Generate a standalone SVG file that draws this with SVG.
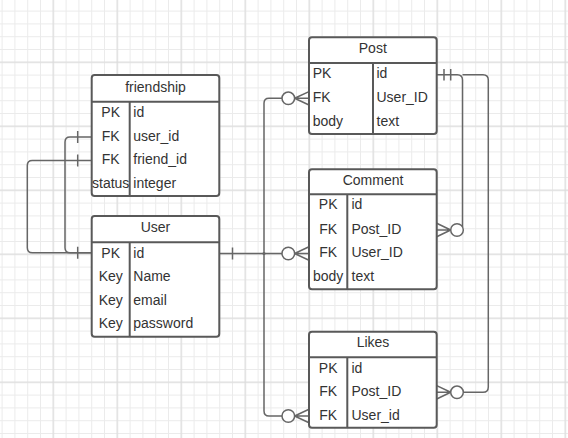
<svg xmlns="http://www.w3.org/2000/svg" width="568" height="438" viewBox="0 0 568 438">
<style>
.tb{fill:#fff;stroke:#595959;stroke-width:2}
.ln{stroke:#595959;stroke-width:2;fill:none}
.t{font-family:"Liberation Sans",Arial,sans-serif;font-size:14px;fill:#333}
.c{text-anchor:middle}
.cn{stroke:#666;stroke-width:1.5;fill:none}
.ci{stroke:#666;stroke-width:1.5;fill:#fff}
</style>
<defs>
<pattern id="minor" width="12.8" height="12.8" patternUnits="userSpaceOnUse" x="46.9" y="55.9">
<path d="M6.4 0V12.8M0 6.4H12.8" stroke="#ebebeb" stroke-width="1" fill="none"/>
</pattern>
<pattern id="major" width="64" height="64" patternUnits="userSpaceOnUse" x="21.3" y="30.3">
<path d="M32 0V64M0 32H64" stroke="#d9d9d9" stroke-width="1" fill="none"/>
</pattern>
</defs>
<rect width="568" height="438" fill="#fff"/>
<rect width="568" height="438" fill="url(#minor)"/>
<rect width="568" height="438" fill="url(#major)"/>

<g id="connectors">
<path class="cn" d="M91.7,137H70Q65,137 65,142V247.7Q65,252.7 70,252.7H91.7"/>
<path class="cn" d="M77.7,131V143M77.7,246.7V258.7"/>
<path class="cn" d="M91.7,160.5H32.3Q27.3,160.5 27.3,165.5V247.7Q27.3,252.7 32.3,252.7H91.7"/>
<path class="cn" d="M77.7,154.5V166.5"/>
<path class="cn" d="M219.3,253.5H282M232.5,247.5V259.5"/>
<path class="cn" d="M264,253.5V103.3Q264,98.3 269,98.3H282"/>
<path class="cn" d="M264,253.5V411Q264,416 269,416H282"/>
<circle cx="264" cy="253.5" r="1.6" fill="#666"/>
<path class="cn" d="M294.6,98.3L309,91.6M294.6,98.3H309M294.6,98.3L309,105"/>
<circle class="ci" cx="288.3" cy="98.3" r="6.3"/>
<path class="cn" d="M294.6,253.5L309,246.8M294.6,253.5H309M294.6,253.5L309,260.2"/>
<circle class="ci" cx="288.3" cy="253.5" r="6.3"/>
<path class="cn" d="M294.6,416L309,409.3M294.6,416H309M294.6,416L309,422.7"/>
<circle class="ci" cx="288.3" cy="416" r="6.3"/>
<path class="cn" d="M436.7,74.7H457.3Q462.5,74.7 462.5,80V227"/>
<path class="cn" d="M444,69V80.5M450.7,69V80.5"/>
<path class="cn" d="M462.5,74.7H483Q488.3,74.7 488.3,80V387Q488.3,392.3 483,392.3H463.3"/>
<path class="cn" d="M450.7,230L436.7,223.3M450.7,230H436.7M450.7,230L436.7,236.7"/>
<circle class="ci" cx="457" cy="230" r="6.3"/>
<path class="cn" d="M450.7,392.3L436.7,385.6M450.7,392.3H436.7M450.7,392.3L436.7,399"/>
<circle class="ci" cx="457" cy="392.3" r="6.3"/>
</g>

<g id="friendship">
<rect class="tb" x="91.7" y="75" width="127.6" height="121" rx="3"/>
<path class="ln" d="M91.7,101.7H219.3M129.7,101.7V196"/>
<text class="t c" x="155.5" y="91.7">friendship</text>
<text class="t c" x="110.7" y="117">PK</text>
<text class="t c" x="110.7" y="140.6">FK</text>
<text class="t c" x="110.7" y="164.2">FK</text>
<text class="t c" x="110.7" y="187.8">status</text>
<text class="t" x="133.3" y="117">id</text>
<text class="t" x="133.3" y="140.6">user_id</text>
<text class="t" x="133.3" y="164.2">friend_id</text>
<text class="t" x="133.3" y="187.8">integer</text>
</g>

<g id="user">
<rect class="tb" x="91.7" y="216" width="127.6" height="120.7" rx="3"/>
<path class="ln" d="M91.7,242.3H219.3M129.7,242.3V336.7"/>
<text class="t c" x="155.5" y="232.3">User</text>
<text class="t c" x="110.7" y="257.7">PK</text>
<text class="t c" x="110.7" y="281">Key</text>
<text class="t c" x="110.7" y="304.5">Key</text>
<text class="t c" x="110.7" y="328">Key</text>
<text class="t" x="133.3" y="257.7">id</text>
<text class="t" x="133.3" y="281">Name</text>
<text class="t" x="133.3" y="304.5">email</text>
<text class="t" x="133.3" y="328">password</text>
</g>

<g id="post">
<rect class="tb" x="309" y="37.3" width="127.7" height="96.7" rx="3"/>
<path class="ln" d="M309,63H436.7M373,63V134"/>
<text class="t c" x="372.8" y="52.7">Post</text>
<text class="t" x="312.7" y="78.3">PK</text>
<text class="t" x="312.7" y="102">FK</text>
<text class="t" x="312.7" y="125.7">body</text>
<text class="t" x="376.5" y="78.3">id</text>
<text class="t" x="376.5" y="102">User_ID</text>
<text class="t" x="376.5" y="125.7">text</text>
</g>

<g id="comment">
<rect class="tb" x="309" y="169.3" width="127.7" height="120" rx="3"/>
<path class="ln" d="M309,194.3H436.7M347.3,194.3V289.3"/>
<text class="t c" x="373" y="185">Comment</text>
<text class="t c" x="328.2" y="209">PK</text>
<text class="t c" x="328.2" y="233.5">FK</text>
<text class="t c" x="328.2" y="257.3">FK</text>
<text class="t c" x="328.2" y="281">body</text>
<text class="t" x="351.5" y="209">id</text>
<text class="t" x="351.5" y="233.5">Post_ID</text>
<text class="t" x="351.5" y="257.3">User_ID</text>
<text class="t" x="351.5" y="281">text</text>
</g>

<g id="likes">
<rect class="tb" x="309" y="331.7" width="127.7" height="96" rx="3"/>
<path class="ln" d="M309,357.3H436.7M347.3,357.3V427.7"/>
<text class="t c" x="373" y="347.3">Likes</text>
<text class="t c" x="328.2" y="372.7">PK</text>
<text class="t c" x="328.2" y="396.3">FK</text>
<text class="t c" x="328.2" y="419.7">FK</text>
<text class="t" x="351.5" y="372.7">id</text>
<text class="t" x="351.5" y="396.3">Post_ID</text>
<text class="t" x="351.5" y="419.7">User_id</text>
</g>
</svg>
